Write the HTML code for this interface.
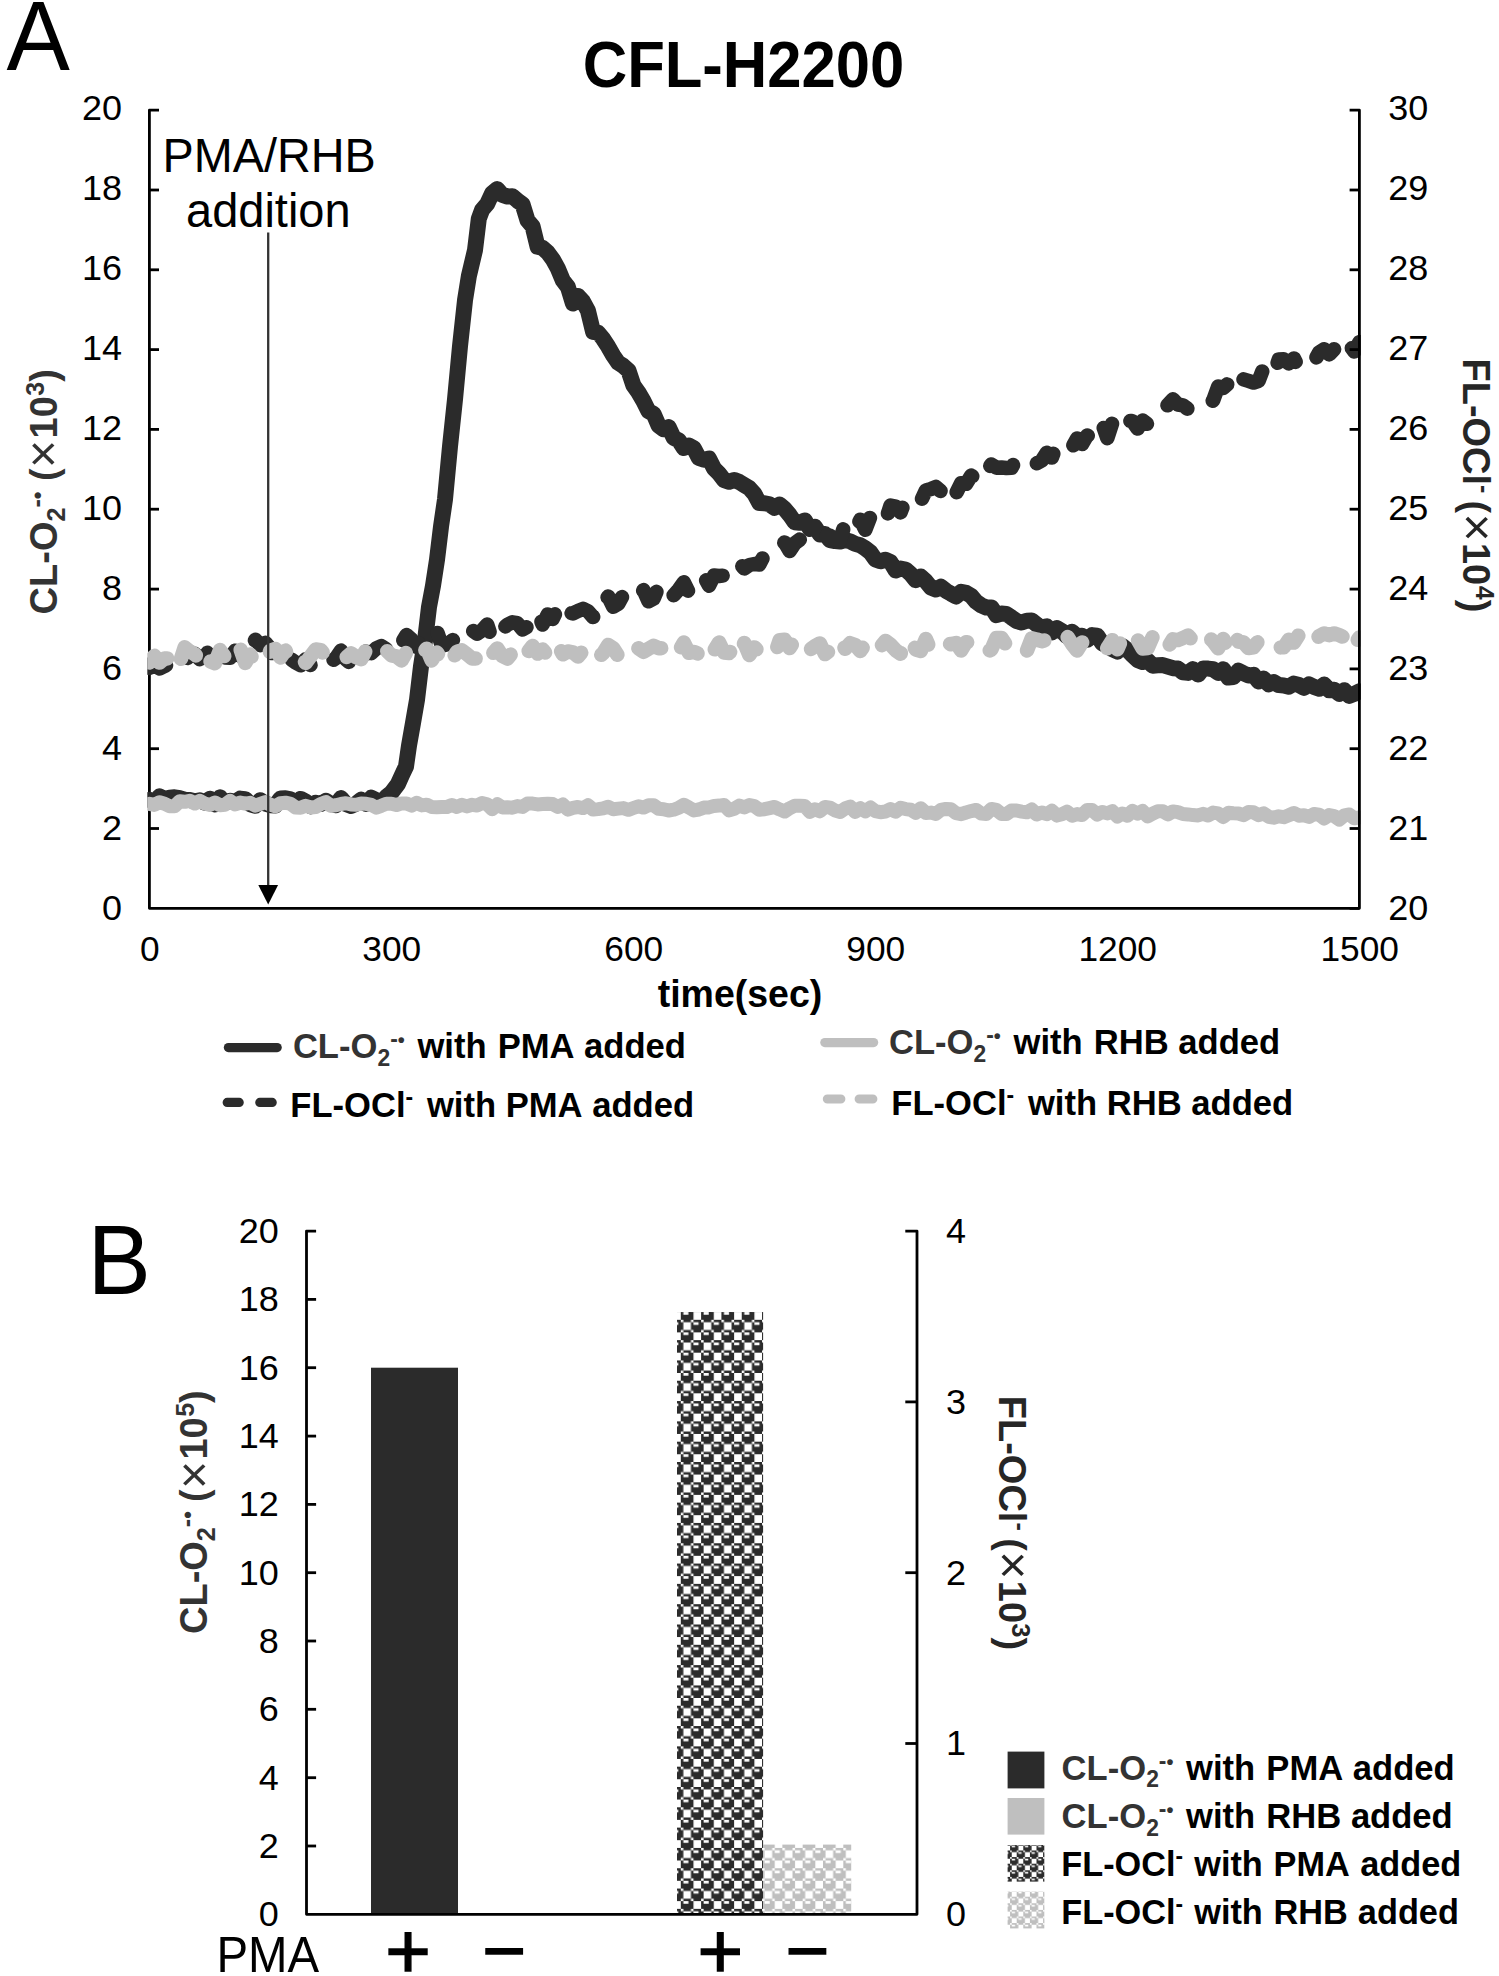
<!DOCTYPE html>
<html lang="en"><head><meta charset="utf-8"><title>CFL-H2200</title>
<style>html,body{margin:0;padding:0;background:#fff;overflow:hidden}svg{display:block}text{font-family:'Liberation Sans', Arial, sans-serif}</style></head><body>
<svg width="1499" height="1976" viewBox="0 0 1499 1976">
<rect width="100%" height="100%" fill="#fff"/>
<defs>
<pattern id="spD" patternUnits="userSpaceOnUse" x="680.80" y="1299.50" width="20.312" height="20.312"><path transform="scale(2.5390)" fill="#2b2b2b" d="M1 0h3v1h-3zM5 0h3v1h-3zM0 1h1v1h-1zM4 1h1v1h-1zM7 1h1v1h-1zM0 2h1v1h-1zM4 2h4v1h-4zM0 3h1v1h-1zM4 3h4v1h-4zM1 4h3v1h-3zM5 4h3v1h-3zM0 5h1v1h-1zM3 5h2v1h-2zM0 6h5v1h-5zM0 7h5v1h-5z"/></pattern>
<pattern id="spG" patternUnits="userSpaceOnUse" x="680.80" y="1299.50" width="20.312" height="20.312"><path transform="scale(2.5390)" fill="#bfbfbf" d="M1 0h3v1h-3zM5 0h3v1h-3zM0 1h1v1h-1zM4 1h1v1h-1zM7 1h1v1h-1zM0 2h1v1h-1zM4 2h4v1h-4zM0 3h1v1h-1zM4 3h4v1h-4zM1 4h3v1h-3zM5 4h3v1h-3zM0 5h1v1h-1zM3 5h2v1h-2zM0 6h5v1h-5zM0 7h5v1h-5z"/></pattern>
<pattern id="spDs" patternUnits="userSpaceOnUse" x="1003.50" y="1843.90" width="13.200" height="13.200"><path transform="scale(1.6500)" fill="#2b2b2b" d="M1 0h3v1h-3zM5 0h3v1h-3zM0 1h1v1h-1zM4 1h1v1h-1zM7 1h1v1h-1zM0 2h1v1h-1zM4 2h4v1h-4zM0 3h1v1h-1zM4 3h4v1h-4zM1 4h3v1h-3zM5 4h3v1h-3zM0 5h1v1h-1zM3 5h2v1h-2zM0 6h5v1h-5zM0 7h5v1h-5z"/></pattern>
<pattern id="spGs" patternUnits="userSpaceOnUse" x="1003.50" y="1843.90" width="13.200" height="13.200"><path transform="scale(1.6500)" fill="#bfbfbf" d="M1 0h3v1h-3zM5 0h3v1h-3zM0 1h1v1h-1zM4 1h1v1h-1zM7 1h1v1h-1zM0 2h1v1h-1zM4 2h4v1h-4zM0 3h1v1h-1zM4 3h4v1h-4zM1 4h3v1h-3zM5 4h3v1h-3zM0 5h1v1h-1zM3 5h2v1h-2zM0 6h5v1h-5zM0 7h5v1h-5z"/></pattern>
</defs>
<text transform="translate(6.40,70.00) scale(1,1.040)" font-size="95.00" font-weight="normal" text-anchor="start" fill="#000">A</text>
<text transform="translate(743.50,87.30) scale(1,1.040)" font-size="61.60" font-weight="bold" text-anchor="middle" fill="#000">CFL-H2200</text>
<g stroke="#000" stroke-width="2.8" fill="none" stroke-linejoin="round">
<path d="M159.0 110.2 H149.4 V908.3 H1359.4"/>
<path d="M149.4 190.0 h9.6"/>
<path d="M149.4 269.8 h9.6"/>
<path d="M149.4 349.6 h9.6"/>
<path d="M149.4 429.4 h9.6"/>
<path d="M149.4 509.2 h9.6"/>
<path d="M149.4 589.1 h9.6"/>
<path d="M149.4 668.9 h9.6"/>
<path d="M149.4 748.7 h9.6"/>
<path d="M149.4 828.5 h9.6"/>
</g>
<text transform="translate(122.00,120.00) scale(1,0.975)" font-size="36.00" font-weight="normal" text-anchor="end" fill="#000">20</text>
<text transform="translate(1388.20,120.00) scale(1,0.975)" font-size="36.00" font-weight="normal" text-anchor="start" fill="#000">30</text>
<text transform="translate(122.00,199.97) scale(1,0.975)" font-size="36.00" font-weight="normal" text-anchor="end" fill="#000">18</text>
<text transform="translate(1388.20,199.97) scale(1,0.975)" font-size="36.00" font-weight="normal" text-anchor="start" fill="#000">29</text>
<text transform="translate(122.00,279.94) scale(1,0.975)" font-size="36.00" font-weight="normal" text-anchor="end" fill="#000">16</text>
<text transform="translate(1388.20,279.94) scale(1,0.975)" font-size="36.00" font-weight="normal" text-anchor="start" fill="#000">28</text>
<text transform="translate(122.00,359.91) scale(1,0.975)" font-size="36.00" font-weight="normal" text-anchor="end" fill="#000">14</text>
<text transform="translate(1388.20,359.91) scale(1,0.975)" font-size="36.00" font-weight="normal" text-anchor="start" fill="#000">27</text>
<text transform="translate(122.00,439.88) scale(1,0.975)" font-size="36.00" font-weight="normal" text-anchor="end" fill="#000">12</text>
<text transform="translate(1388.20,439.88) scale(1,0.975)" font-size="36.00" font-weight="normal" text-anchor="start" fill="#000">26</text>
<text transform="translate(122.00,519.85) scale(1,0.975)" font-size="36.00" font-weight="normal" text-anchor="end" fill="#000">10</text>
<text transform="translate(1388.20,519.85) scale(1,0.975)" font-size="36.00" font-weight="normal" text-anchor="start" fill="#000">25</text>
<text transform="translate(122.00,599.82) scale(1,0.975)" font-size="36.00" font-weight="normal" text-anchor="end" fill="#000">8</text>
<text transform="translate(1388.20,599.82) scale(1,0.975)" font-size="36.00" font-weight="normal" text-anchor="start" fill="#000">24</text>
<text transform="translate(122.00,679.79) scale(1,0.975)" font-size="36.00" font-weight="normal" text-anchor="end" fill="#000">6</text>
<text transform="translate(1388.20,679.79) scale(1,0.975)" font-size="36.00" font-weight="normal" text-anchor="start" fill="#000">23</text>
<text transform="translate(122.00,759.76) scale(1,0.975)" font-size="36.00" font-weight="normal" text-anchor="end" fill="#000">4</text>
<text transform="translate(1388.20,759.76) scale(1,0.975)" font-size="36.00" font-weight="normal" text-anchor="start" fill="#000">22</text>
<text transform="translate(122.00,839.73) scale(1,0.975)" font-size="36.00" font-weight="normal" text-anchor="end" fill="#000">2</text>
<text transform="translate(1388.20,839.73) scale(1,0.975)" font-size="36.00" font-weight="normal" text-anchor="start" fill="#000">21</text>
<text transform="translate(122.00,919.70) scale(1,0.975)" font-size="36.00" font-weight="normal" text-anchor="end" fill="#000">0</text>
<text transform="translate(1388.20,919.70) scale(1,0.975)" font-size="36.00" font-weight="normal" text-anchor="start" fill="#000">20</text>
<text transform="translate(149.70,960.50) scale(1,0.975)" font-size="35.30" font-weight="normal" text-anchor="middle" fill="#000">0</text>
<text transform="translate(391.70,960.50) scale(1,0.975)" font-size="35.30" font-weight="normal" text-anchor="middle" fill="#000">300</text>
<text transform="translate(633.70,960.50) scale(1,0.975)" font-size="35.30" font-weight="normal" text-anchor="middle" fill="#000">600</text>
<text transform="translate(875.70,960.50) scale(1,0.975)" font-size="35.30" font-weight="normal" text-anchor="middle" fill="#000">900</text>
<text transform="translate(1117.70,960.50) scale(1,0.975)" font-size="35.30" font-weight="normal" text-anchor="middle" fill="#000">1200</text>
<text transform="translate(1359.70,960.50) scale(1,0.975)" font-size="35.30" font-weight="normal" text-anchor="middle" fill="#000">1500</text>
<text transform="translate(56.70,614.40) rotate(-90) scale(1,1.040)" font-size="38.00" font-weight="bold" text-anchor="start" fill="#333333"><tspan>CL-O</tspan><tspan font-size="25.08" dy="8.04">2</tspan><tspan font-size="25.08" dy="-19.73">-</tspan><tspan font-size="22.04">•</tspan><tspan dy="11.69"> (</tspan><tspan font-size="48.26" dy="3.54" dx="0.38" font-weight="normal">×</tspan><tspan dy="-3.54" dx="1.29">10</tspan><tspan font-size="25.08" dy="-12.06" dx="0.49">3</tspan><tspan dy="12.06">)</tspan></text>
<text transform="translate(1463.40,358.50) rotate(90) scale(1,1.040)" font-size="38.00" font-weight="bold" text-anchor="start" fill="#262626"><tspan>FL-OCl</tspan><tspan font-size="25.08" dy="-12.42">-</tspan><tspan dy="12.42" dx="-3.50"> (</tspan><tspan font-size="48.26" dy="3.54" dx="0.38" font-weight="normal">×</tspan><tspan dy="-3.54" dx="1.29">10</tspan><tspan font-size="25.08" dy="-12.06" dx="0.49">4</tspan><tspan dy="12.06">)</tspan></text>
<text transform="translate(740.00,1007.00) scale(1,1.040)" font-size="37.50" font-weight="bold" text-anchor="middle" fill="#000">time(sec)</text>
<clipPath id="plotA"><rect x="147.3" y="95" width="1213.5" height="820"/></clipPath>
<g fill="none" stroke-linecap="round" stroke-linejoin="round" clip-path="url(#plotA)">
<polyline stroke="#2b2b2b" stroke-width="16" points="149.4,799.8 154.4,802.4 159.5,796.4 164.5,799.0 169.6,797.7 174.6,797.3 179.7,798.2 184.7,799.6 189.7,800.0 194.8,801.3 199.8,800.3 204.9,802.6 209.9,798.7 214.9,804.4 220.0,797.3 225.0,802.8 230.1,800.7 235.1,802.0 240.2,798.6 245.2,799.1 250.2,804.3 255.3,805.7 260.3,800.3 265.4,803.6 270.4,805.2 275.4,805.4 280.5,798.6 285.5,798.3 290.6,799.4 295.6,805.4 300.6,798.9 305.7,801.6 310.7,806.2 315.8,802.7 320.8,804.0 325.9,800.9 330.9,804.0 335.9,805.1 341.0,798.1 346.0,804.1 351.1,806.0 356.1,803.8 361.1,799.8 366.2,803.9 371.2,797.8 376.3,800.3 381.3,803.5 386.4,796.8 391.4,792.8 398.0,783.9 402.0,775.0 406.0,766.5 409.0,745.6 413.0,723.0 417.0,699.9 421.0,666.2 425.0,640.6 429.0,607.0 433.0,585.8 437.0,559.7 441.0,526.7 445.0,499.3 450.0,446.6 455.0,399.3 460.0,346.2 465.0,300.3 468.8,276.4 475.0,250.1 478.8,218.7 482.1,209.9 487.2,203.9 492.2,193.2 497.3,189.1 502.3,194.9 507.4,196.5 512.4,196.2 517.4,200.6 522.5,204.2 527.5,220.3 532.6,226.4 537.6,246.8 542.6,247.9 547.7,252.5 552.7,259.2 557.8,268.4 562.8,280.4 567.9,287.0 572.9,303.5 577.9,295.9 583.0,301.5 588.0,310.8 593.1,331.8 598.1,332.7 603.1,338.8 608.2,346.7 613.2,355.5 618.3,362.8 623.3,365.9 628.4,370.4 633.4,385.4 638.4,392.4 643.5,401.1 648.5,411.2 653.6,413.8 658.6,425.5 663.6,429.2 668.7,427.1 673.7,437.8 678.8,440.4 683.8,448.0 688.9,445.6 693.9,448.3 698.9,458.0 704.0,459.8 709.0,458.6 714.1,468.7 719.1,473.7 724.1,480.2 729.2,481.8 734.2,479.9 739.3,482.0 744.3,485.1 749.4,488.2 754.4,493.9 759.4,503.1 764.5,503.2 769.5,504.3 774.6,507.8 779.6,504.6 784.6,508.9 789.7,515.0 794.7,522.2 799.8,522.8 804.8,520.4 809.9,529.0 814.9,526.7 819.9,534.5 825.0,534.0 830.0,540.1 835.1,541.1 840.1,541.5 845.1,540.0 850.2,541.4 855.2,543.9 860.3,545.3 865.3,548.4 870.4,552.4 875.4,559.5 880.4,561.3 885.5,559.7 890.5,562.0 895.6,570.5 900.6,568.6 905.6,569.5 910.7,574.0 915.7,580.2 920.8,576.6 925.8,581.2 930.9,587.5 935.9,589.5 940.9,586.7 946.0,590.8 951.0,593.7 956.1,596.5 961.1,591.8 966.1,592.8 971.2,595.8 976.2,601.8 981.3,605.4 986.3,607.5 991.4,607.4 996.4,615.1 1001.4,613.6 1006.5,614.0 1011.5,617.4 1016.6,621.1 1021.6,622.5 1026.7,620.7 1031.7,620.6 1036.7,624.6 1041.8,628.3 1046.8,626.3 1051.9,632.4 1056.9,628.1 1061.9,631.1 1067.0,636.3 1072.0,631.8 1077.1,636.2 1082.1,635.8 1087.2,639.8 1092.2,635.1 1097.2,635.6 1102.3,643.4 1107.3,645.9 1112.4,649.2 1117.4,651.5 1122.4,646.0 1127.5,650.0 1132.5,655.2 1137.6,660.0 1142.6,662.0 1147.7,660.6 1152.7,665.7 1157.7,665.3 1162.8,665.1 1167.8,666.6 1172.9,668.2 1177.9,668.5 1182.9,672.3 1188.0,672.9 1193.0,669.1 1198.1,674.6 1203.1,668.5 1208.2,668.6 1213.2,669.2 1218.2,672.9 1223.3,669.3 1228.3,677.6 1233.4,677.1 1238.4,670.8 1243.4,673.2 1248.5,675.5 1253.5,674.8 1258.6,681.5 1263.6,678.7 1268.7,684.3 1273.7,682.0 1278.7,685.1 1283.8,685.5 1288.8,686.7 1293.9,683.6 1298.9,685.0 1303.9,687.8 1309.0,684.4 1314.0,686.9 1319.1,688.7 1324.1,684.6 1329.2,690.3 1334.2,689.8 1339.2,693.8 1344.3,690.3 1349.3,695.9 1354.4,693.9 1359.4,691.3"/>
<polyline stroke="#2b2b2b" stroke-width="14.5" stroke-dasharray="26 29" points="149.4,667.9 154.4,660.3 159.5,668.5 164.5,666.0 169.6,663.8 174.6,660.2 179.7,655.9 184.7,661.6 189.7,655.3 194.8,653.9 199.8,659.1 204.9,656.6 209.9,649.0 214.9,654.6 220.0,648.1 225.0,657.4 230.1,657.7 235.1,650.7 240.2,655.8 245.2,641.8 250.2,648.2 255.3,639.8 260.3,645.1 265.4,642.8 270.4,648.7 275.4,661.8 280.5,656.7 285.5,655.8 290.6,659.0 295.6,662.4 300.6,665.3 305.7,659.2 310.7,665.2 315.8,661.0 320.8,659.8 325.9,656.3 330.9,661.9 335.9,658.0 341.0,650.6 346.0,659.5 351.1,663.7 356.1,655.5 361.1,661.8 366.2,651.7 371.2,653.1 376.3,648.4 381.3,646.1 386.4,649.4 391.4,643.5 396.4,650.4 401.5,643.2 406.5,635.1 411.6,639.5 416.6,647.0 421.6,638.7 426.7,631.5 431.7,634.4 436.8,630.6 441.8,645.6 446.9,644.5 451.9,640.9 456.9,637.0 462.0,639.3 467.0,628.7 472.1,630.3 477.1,633.7 482.1,630.3 487.2,624.6 492.2,639.7 497.3,629.2 502.3,629.0 507.4,624.7 512.4,622.3 517.4,623.2 522.5,629.5 527.5,626.6 532.6,619.4 537.6,612.2 542.6,624.5 547.7,614.5 552.7,618.9 557.8,608.4 562.8,618.2 567.9,612.5 572.9,613.4 577.9,611.0 583.0,608.9 588.0,611.3 593.1,617.1 598.1,600.9 603.1,602.7 608.2,596.5 613.2,606.8 618.3,603.8 623.3,594.7 628.4,597.0 633.4,599.9 638.4,599.3 643.5,590.1 648.5,601.3 653.6,598.6 658.6,586.7 663.6,598.3 668.7,595.4 673.7,595.3 678.8,589.5 683.8,582.3 688.9,592.5 693.9,585.3 698.9,579.4 704.0,576.3 709.0,585.7 714.1,575.6 719.1,576.0 724.1,575.5 729.2,577.5 734.2,572.4 739.3,563.1 744.3,568.4 749.4,565.0 754.4,564.0 759.4,564.5 764.5,554.6 769.5,551.5 774.6,548.1 779.6,548.8 784.6,542.4 789.7,551.0 794.7,543.4 799.8,539.6 804.8,536.1 809.9,537.3 814.9,534.4 819.9,534.2 825.0,535.8 830.0,535.7 835.1,539.2 840.1,540.2 845.1,522.7 850.2,524.4 855.2,529.8 860.3,519.7 865.3,529.8 870.4,516.8 875.4,523.8 880.4,520.3 885.5,520.9 890.5,505.6 895.6,506.7 900.6,512.4 905.6,499.6 910.7,496.3 915.7,499.5 920.8,501.3 925.8,490.4 930.9,489.0 935.9,486.9 940.9,491.2 946.0,494.2 951.0,484.3 956.1,493.3 961.1,483.2 966.1,483.8 971.2,475.6 976.2,478.6 981.3,481.8 986.3,470.6 991.4,464.5 996.4,467.7 1001.4,467.5 1006.5,468.0 1011.5,467.8 1016.6,459.0 1021.6,460.6 1026.7,463.8 1031.7,465.2 1036.7,463.4 1041.8,460.5 1046.8,452.8 1051.9,457.6 1056.9,444.0 1061.9,444.7 1067.0,447.5 1072.0,447.7 1077.1,438.4 1082.1,444.0 1087.2,435.4 1092.2,438.3 1097.2,424.8 1102.3,423.9 1107.3,438.2 1112.4,422.7 1117.4,431.0 1122.4,423.3 1127.5,420.2 1132.5,421.4 1137.6,428.6 1142.6,420.5 1147.7,424.4 1152.7,418.8 1157.7,413.5 1162.8,411.7 1167.8,404.9 1172.9,399.3 1177.9,404.5 1182.9,405.3 1188.0,409.1 1193.0,404.2 1198.1,405.5 1203.1,405.5 1208.2,404.2 1213.2,400.3 1218.2,386.5 1223.3,388.0 1228.3,383.4 1233.4,392.5 1238.4,389.0 1243.4,379.3 1248.5,380.9 1253.5,382.6 1258.6,380.8 1263.6,367.9 1268.7,374.6 1273.7,373.9 1278.7,359.6 1283.8,359.3 1288.8,363.4 1293.9,358.4 1298.9,368.2 1303.9,364.0 1309.0,362.3 1314.0,361.7 1319.1,352.6 1324.1,349.2 1329.2,354.4 1334.2,349.1 1339.2,356.7 1344.3,350.4 1349.3,344.8 1354.4,351.5 1359.4,342.1"/>
<polyline stroke="#bfbfbf" stroke-width="14" points="149.4,803.8 154.4,804.9 159.5,802.2 164.5,803.7 169.6,806.2 174.6,806.3 179.7,801.3 184.7,801.8 189.7,800.8 194.8,803.5 199.8,800.8 204.9,803.6 209.9,804.9 214.9,802.5 220.0,805.2 225.0,804.7 230.1,801.0 235.1,804.5 240.2,802.6 245.2,803.7 250.2,802.8 255.3,805.6 260.3,803.9 265.4,802.1 270.4,804.7 275.4,806.3 280.5,803.2 285.5,802.7 290.6,803.8 295.6,807.5 300.6,807.8 305.7,805.8 310.7,807.4 315.8,807.0 320.8,804.0 325.9,802.1 330.9,805.9 335.9,805.3 341.0,804.0 346.0,803.2 351.1,804.4 356.1,804.8 361.1,803.6 366.2,803.8 371.2,804.9 376.3,807.6 381.3,805.8 386.4,803.8 391.4,803.8 396.4,805.1 401.5,803.4 406.5,803.5 411.6,805.6 416.6,802.8 421.6,805.4 426.7,804.7 431.7,807.0 436.8,807.3 441.8,807.0 446.9,807.0 451.9,804.9 456.9,806.9 462.0,804.8 467.0,806.4 472.1,804.8 477.1,805.6 482.1,803.1 487.2,804.3 492.2,809.2 497.3,804.3 502.3,807.4 507.4,807.2 512.4,807.7 517.4,806.1 522.5,806.9 527.5,803.5 532.6,803.6 537.6,804.4 542.6,804.1 547.7,803.8 552.7,804.1 557.8,806.9 562.8,804.5 567.9,809.6 572.9,807.9 577.9,807.0 583.0,808.1 588.0,805.2 593.1,809.6 598.1,809.1 603.1,808.4 608.2,806.8 613.2,809.2 618.3,808.6 623.3,808.1 628.4,809.8 633.4,808.0 638.4,806.3 643.5,807.6 648.5,805.2 653.6,805.2 658.6,808.8 663.6,809.2 668.7,810.5 673.7,809.7 678.8,807.8 683.8,804.8 688.9,807.5 693.9,810.4 698.9,809.5 704.0,807.6 709.0,807.4 714.1,805.9 719.1,805.6 724.1,805.0 729.2,810.4 734.2,808.8 739.3,805.6 744.3,807.4 749.4,805.0 754.4,806.1 759.4,809.7 764.5,809.2 769.5,808.1 774.6,806.9 779.6,809.4 784.6,811.5 789.7,808.2 794.7,805.8 799.8,805.8 804.8,806.1 809.9,811.9 814.9,809.2 819.9,811.3 825.0,806.9 830.0,807.6 835.1,810.5 840.1,811.9 845.1,808.4 850.2,806.6 855.2,812.0 860.3,808.2 865.3,811.3 870.4,807.5 875.4,811.1 880.4,812.2 885.5,811.5 890.5,809.1 895.6,811.6 900.6,807.8 905.6,809.1 910.7,809.8 915.7,812.9 920.8,808.2 925.8,813.1 930.9,812.6 935.9,813.9 940.9,809.9 946.0,808.9 951.0,809.3 956.1,813.2 961.1,814.2 966.1,812.5 971.2,811.1 976.2,809.9 981.3,813.6 986.3,813.9 991.4,808.9 996.4,809.8 1001.4,813.9 1006.5,814.1 1011.5,810.6 1016.6,810.5 1021.6,811.6 1026.7,812.3 1031.7,809.5 1036.7,814.5 1041.8,812.5 1046.8,814.2 1051.9,810.7 1056.9,815.6 1061.9,814.3 1067.0,811.6 1072.0,815.7 1077.1,814.1 1082.1,815.1 1087.2,810.0 1092.2,810.1 1097.2,814.7 1102.3,811.9 1107.3,813.4 1112.4,811.1 1117.4,816.6 1122.4,813.5 1127.5,815.7 1132.5,810.8 1137.6,813.6 1142.6,810.9 1147.7,816.4 1152.7,813.6 1157.7,811.2 1162.8,811.3 1167.8,814.4 1172.9,811.4 1177.9,812.2 1182.9,814.0 1188.0,814.4 1193.0,815.1 1198.1,815.4 1203.1,813.8 1208.2,815.5 1213.2,812.6 1218.2,813.4 1223.3,817.0 1228.3,812.8 1233.4,813.3 1238.4,813.5 1243.4,815.1 1248.5,812.1 1253.5,812.3 1258.6,815.2 1263.6,813.4 1268.7,816.8 1273.7,817.7 1278.7,816.3 1283.8,817.2 1288.8,815.2 1293.9,813.0 1298.9,815.7 1303.9,815.3 1309.0,816.9 1314.0,813.9 1319.1,814.6 1324.1,818.5 1329.2,815.0 1334.2,816.0 1339.2,819.6 1344.3,815.3 1349.3,814.5 1354.4,818.3 1359.4,817.4"/>
<polyline stroke="#bfbfbf" stroke-width="14.5" stroke-dasharray="26 29" points="149.4,662.5 154.4,655.8 159.5,662.6 164.5,658.5 169.6,658.3 174.6,650.6 179.7,662.8 184.7,647.3 189.7,651.3 194.8,654.3 199.8,659.8 204.9,650.5 209.9,661.2 214.9,663.2 220.0,650.1 225.0,657.1 230.1,647.7 235.1,653.8 240.2,648.3 245.2,662.9 250.2,654.6 255.3,662.9 260.3,660.3 265.4,661.6 270.4,650.6 275.4,649.0 280.5,657.5 285.5,650.6 290.6,659.7 295.6,654.5 300.6,656.4 305.7,662.9 310.7,656.2 315.8,649.5 320.8,650.2 325.9,656.3 330.9,655.8 335.9,657.6 341.0,653.7 346.0,657.6 351.1,653.4 356.1,657.0 361.1,659.2 366.2,649.7 371.2,652.7 376.3,654.7 381.3,657.5 386.4,650.5 391.4,655.3 396.4,656.3 401.5,660.5 406.5,651.9 411.6,656.2 416.6,649.0 421.6,653.8 426.7,648.7 431.7,660.4 436.8,652.5 441.8,658.8 446.9,652.1 451.9,659.8 456.9,651.7 462.0,650.4 467.0,654.2 472.1,658.5 477.1,658.6 482.1,654.3 487.2,646.0 492.2,654.1 497.3,648.4 502.3,656.1 507.4,658.6 512.4,652.5 517.4,653.8 522.5,645.1 527.5,652.6 532.6,645.9 537.6,653.6 542.6,649.5 547.7,655.9 552.7,644.3 557.8,645.2 562.8,654.3 567.9,651.5 572.9,652.3 577.9,656.6 583.0,650.8 588.0,655.8 593.1,651.0 598.1,657.5 603.1,653.3 608.2,644.9 613.2,648.3 618.3,656.2 623.3,647.9 628.4,645.2 633.4,649.6 638.4,648.3 643.5,651.8 648.5,648.8 653.6,645.9 658.6,648.2 663.6,648.2 668.7,655.9 673.7,657.0 678.8,651.2 683.8,642.5 688.9,652.8 693.9,651.9 698.9,654.1 704.0,646.4 709.0,641.7 714.1,650.4 719.1,642.5 724.1,652.6 729.2,653.1 734.2,646.8 739.3,655.3 744.3,642.9 749.4,655.1 754.4,647.4 759.4,652.1 764.5,651.8 769.5,655.4 774.6,655.2 779.6,640.2 784.6,639.8 789.7,648.1 794.7,639.9 799.8,649.8 804.8,647.8 809.9,649.8 814.9,646.2 819.9,643.4 825.0,654.1 830.0,650.5 835.1,638.9 840.1,640.3 845.1,648.8 850.2,643.2 855.2,645.0 860.3,651.0 865.3,644.1 870.4,653.1 875.4,649.8 880.4,647.0 885.5,641.0 890.5,644.6 895.6,650.2 900.6,653.7 905.6,639.0 910.7,639.9 915.7,649.5 920.8,650.9 925.8,639.0 930.9,650.7 935.9,650.0 940.9,648.3 946.0,642.7 951.0,644.3 956.1,643.0 961.1,650.5 966.1,642.2 971.2,642.1 976.2,651.8 981.3,651.5 986.3,652.2 991.4,649.5 996.4,637.9 1001.4,637.9 1006.5,645.3 1011.5,650.0 1016.6,650.4 1021.6,646.4 1026.7,651.4 1031.7,638.4 1036.7,639.5 1041.8,641.2 1046.8,639.9 1051.9,640.7 1056.9,637.5 1061.9,641.6 1067.0,636.0 1072.0,644.0 1077.1,650.5 1082.1,642.4 1087.2,645.2 1092.2,644.9 1097.2,649.9 1102.3,646.7 1107.3,648.1 1112.4,640.2 1117.4,649.2 1122.4,637.6 1127.5,641.1 1132.5,646.3 1137.6,639.7 1142.6,648.5 1147.7,648.0 1152.7,636.8 1157.7,637.8 1162.8,634.9 1167.8,647.7 1172.9,639.3 1177.9,640.1 1182.9,638.0 1188.0,635.6 1193.0,640.9 1198.1,637.2 1203.1,642.4 1208.2,636.6 1213.2,641.4 1218.2,648.3 1223.3,639.0 1228.3,648.3 1233.4,633.9 1238.4,641.6 1243.4,642.4 1248.5,648.1 1253.5,647.4 1258.6,640.7 1263.6,644.6 1268.7,648.0 1273.7,644.1 1278.7,647.5 1283.8,647.2 1288.8,639.8 1293.9,642.6 1298.9,634.8 1303.9,638.8 1309.0,645.6 1314.0,640.9 1319.1,636.1 1324.1,633.5 1329.2,635.2 1334.2,633.4 1339.2,635.1 1344.3,637.4 1349.3,631.8 1354.4,644.5 1359.4,637.5"/>
</g>
<g stroke="#000" stroke-width="2.8" fill="none" stroke-linejoin="round">
<path d="M1349.6 110.2 H1359.4 V908.3 H1349.6"/>
<path d="M1359.4 190.0 h-9.8"/>
<path d="M1359.4 269.8 h-9.8"/>
<path d="M1359.4 349.6 h-9.8"/>
<path d="M1359.4 429.4 h-9.8"/>
<path d="M1359.4 509.2 h-9.8"/>
<path d="M1359.4 589.1 h-9.8"/>
<path d="M1359.4 668.9 h-9.8"/>
<path d="M1359.4 748.7 h-9.8"/>
<path d="M1359.4 828.5 h-9.8"/>
</g>
<text transform="translate(269.20,171.70) scale(1,1.040)" font-size="46.80" font-weight="normal" text-anchor="middle" fill="#000">PMA/RHB</text>
<text transform="translate(268.30,226.70) scale(1,1.040)" font-size="47.00" font-weight="normal" text-anchor="middle" fill="#000">addition</text>
<path d="M268.2 232.5 V890" stroke="#333" stroke-width="2.3"/>
<path d="M258.3 885 H278.1 L268.2 904.5 Z" fill="#000"/>
<g fill="none" stroke-linecap="round" stroke-width="9.2">
<path d="M228.4 1047.6 H277.2" stroke="#2b2b2b"/>
<path d="M227.2 1102.4 H239.2 M259.8 1102.4 H272.2" stroke="#2b2b2b"/>
<path d="M824.8 1042.6 H873.6" stroke="#bfbfbf"/>
<path d="M827.4 1099 H840.8 M859.2 1099 H872.8" stroke="#bfbfbf"/>
</g>
<text transform="translate(292.90,1058.20) scale(1,1.040)" font-size="34.60" font-weight="bold" text-anchor="start" fill="#000"><tspan fill="#333333">CL-O</tspan><tspan font-size="22.84" dy="7.32" fill="#333333">2</tspan><tspan font-size="22.84" dy="-17.97" fill="#333333">-</tspan><tspan font-size="20.07" fill="#333333">•</tspan><tspan dy="10.65" dx="3.00"> with</tspan><tspan dx="1.50"> PMA</tspan><tspan> added</tspan></text>
<text transform="translate(290.30,1117.00) scale(1,1.040)" font-size="34.60" font-weight="bold" text-anchor="start" fill="#000"><tspan>FL-OCl</tspan><tspan font-size="22.84" dy="-11.31">-</tspan><tspan dy="11.31" dx="4.20"> with</tspan><tspan> PMA</tspan><tspan> added</tspan></text>
<text transform="translate(889.00,1054.40) scale(1,1.040)" font-size="34.60" font-weight="bold" text-anchor="start" fill="#000"><tspan fill="#333333">CL-O</tspan><tspan font-size="22.84" dy="7.32" fill="#333333">2</tspan><tspan font-size="22.84" dy="-17.97" fill="#333333">-</tspan><tspan font-size="20.07" fill="#333333">•</tspan><tspan dy="10.65" dx="3.00"> with</tspan><tspan dx="1.50"> RHB</tspan><tspan> added</tspan></text>
<text transform="translate(891.30,1115.00) scale(1,1.040)" font-size="34.60" font-weight="bold" text-anchor="start" fill="#000"><tspan>FL-OCl</tspan><tspan font-size="22.84" dy="-11.31">-</tspan><tspan dy="11.31" dx="4.20"> with</tspan><tspan> RHB</tspan><tspan> added</tspan></text>
<text transform="translate(87.60,1294.40) scale(1,1.040)" font-size="95.00" font-weight="normal" text-anchor="start" fill="#000">B</text>
<rect x="371" y="1367.7" width="87" height="546.6" fill="#2b2b2b"/>
<rect x="677" y="1312" width="86.1" height="602.3" fill="url(#spD)"/>
<rect x="763.1" y="1844.6" width="88.1" height="69.7" fill="url(#spG)"/>
<g stroke="#000" stroke-width="2.8" fill="none" stroke-linejoin="round">
<path d="M316.1 1231.1 H306.5 V1914.3 H917.0 V1231.1 H905.3"/>
<path d="M306.5 1299.4 h9.6"/>
<path d="M306.5 1367.7 h9.6"/>
<path d="M306.5 1436.1 h9.6"/>
<path d="M306.5 1504.4 h9.6"/>
<path d="M306.5 1572.7 h9.6"/>
<path d="M306.5 1641.0 h9.6"/>
<path d="M306.5 1709.3 h9.6"/>
<path d="M306.5 1777.7 h9.6"/>
<path d="M306.5 1846.0 h9.6"/>
<path d="M917.0 1401.9 h-11.7"/>
<path d="M917.0 1572.7 h-11.7"/>
<path d="M917.0 1743.5 h-11.7"/>
</g>
<text transform="translate(278.80,1243.00) scale(1,0.975)" font-size="36.00" font-weight="normal" text-anchor="end" fill="#000">20</text>
<text transform="translate(278.80,1311.32) scale(1,0.975)" font-size="36.00" font-weight="normal" text-anchor="end" fill="#000">18</text>
<text transform="translate(278.80,1379.64) scale(1,0.975)" font-size="36.00" font-weight="normal" text-anchor="end" fill="#000">16</text>
<text transform="translate(278.80,1447.96) scale(1,0.975)" font-size="36.00" font-weight="normal" text-anchor="end" fill="#000">14</text>
<text transform="translate(278.80,1516.28) scale(1,0.975)" font-size="36.00" font-weight="normal" text-anchor="end" fill="#000">12</text>
<text transform="translate(278.80,1584.60) scale(1,0.975)" font-size="36.00" font-weight="normal" text-anchor="end" fill="#000">10</text>
<text transform="translate(278.80,1652.92) scale(1,0.975)" font-size="36.00" font-weight="normal" text-anchor="end" fill="#000">8</text>
<text transform="translate(278.80,1721.24) scale(1,0.975)" font-size="36.00" font-weight="normal" text-anchor="end" fill="#000">6</text>
<text transform="translate(278.80,1789.56) scale(1,0.975)" font-size="36.00" font-weight="normal" text-anchor="end" fill="#000">4</text>
<text transform="translate(278.80,1857.88) scale(1,0.975)" font-size="36.00" font-weight="normal" text-anchor="end" fill="#000">2</text>
<text transform="translate(278.80,1926.20) scale(1,0.975)" font-size="36.00" font-weight="normal" text-anchor="end" fill="#000">0</text>
<text transform="translate(945.90,1242.90) scale(1,0.975)" font-size="36.00" font-weight="normal" text-anchor="start" fill="#000">4</text>
<text transform="translate(945.90,1413.70) scale(1,0.975)" font-size="36.00" font-weight="normal" text-anchor="start" fill="#000">3</text>
<text transform="translate(945.90,1584.50) scale(1,0.975)" font-size="36.00" font-weight="normal" text-anchor="start" fill="#000">2</text>
<text transform="translate(945.90,1755.30) scale(1,0.975)" font-size="36.00" font-weight="normal" text-anchor="start" fill="#000">1</text>
<text transform="translate(945.90,1926.10) scale(1,0.975)" font-size="36.00" font-weight="normal" text-anchor="start" fill="#000">0</text>
<text transform="translate(207.00,1634.00) rotate(-90) scale(1,1.040)" font-size="38.00" font-weight="bold" text-anchor="start" fill="#333333"><tspan>CL-O</tspan><tspan font-size="25.08" dy="8.04">2</tspan><tspan font-size="25.08" dy="-19.73">-</tspan><tspan font-size="22.04">•</tspan><tspan dy="11.69" dx="-1.50"> (</tspan><tspan font-size="48.26" dy="3.54" dx="0.38" font-weight="normal">×</tspan><tspan dy="-3.54" dx="1.29">10</tspan><tspan font-size="25.08" dy="-12.06" dx="0.49">5</tspan><tspan dy="12.06">)</tspan></text>
<text transform="translate(999.20,1395.80) rotate(90) scale(1,1.040)" font-size="38.00" font-weight="bold" text-anchor="start" fill="#262626"><tspan>FL-OCl</tspan><tspan font-size="25.08" dy="-12.42">-</tspan><tspan dy="12.42" dx="-3.00"> (</tspan><tspan font-size="48.26" dy="3.54" dx="0.38" font-weight="normal">×</tspan><tspan dy="-3.54" dx="1.29">10</tspan><tspan font-size="25.08" dy="-12.06" dx="0.49">3</tspan><tspan dy="12.06">)</tspan></text>
<text transform="translate(216.50,1972.00) scale(1,1.040)" font-size="47.40" font-weight="normal" text-anchor="start" fill="#000">PMA</text>
<text x="408.1" y="1977.7" font-size="78.1" stroke="#000" stroke-width="1.45" text-anchor="middle">+</text>
<text x="504.2" y="1976.4" font-size="75" stroke="#000" stroke-width="1.4" text-anchor="middle">−</text>
<text x="720.2" y="1977.7" font-size="78.1" stroke="#000" stroke-width="1.45" text-anchor="middle">+</text>
<text x="807.4" y="1976.4" font-size="75" stroke="#000" stroke-width="1.4" text-anchor="middle">−</text>
<rect x="1007.6" y="1751.6" width="36.8" height="36.8" fill="#2b2b2b"/>
<rect x="1007.6" y="1798" width="36.8" height="36.6" fill="#bfbfbf"/>
<rect x="1007.6" y="1845" width="36.8" height="36.6" fill="url(#spDs)"/>
<rect x="1007.6" y="1891.6" width="36.8" height="36.8" fill="url(#spGs)"/>
<text transform="translate(1061.60,1779.60) scale(1,1.040)" font-size="34.60" font-weight="bold" text-anchor="start" fill="#000"><tspan fill="#333333">CL-O</tspan><tspan font-size="22.84" dy="7.32" fill="#333333">2</tspan><tspan font-size="22.84" dy="-17.97" fill="#333333">-</tspan><tspan font-size="20.07" fill="#333333">•</tspan><tspan dy="10.65" dx="3.00"> with</tspan><tspan dx="1.50"> PMA</tspan><tspan> added</tspan></text>
<text transform="translate(1061.60,1828.00) scale(1,1.040)" font-size="34.60" font-weight="bold" text-anchor="start" fill="#000"><tspan fill="#333333">CL-O</tspan><tspan font-size="22.84" dy="7.32" fill="#333333">2</tspan><tspan font-size="22.84" dy="-17.97" fill="#333333">-</tspan><tspan font-size="20.07" fill="#333333">•</tspan><tspan dy="10.65" dx="3.00"> with</tspan><tspan dx="1.50"> RHB</tspan><tspan> added</tspan></text>
<text transform="translate(1061.30,1875.60) scale(1,1.040)" font-size="34.30" font-weight="bold" text-anchor="start" fill="#000"><tspan>FL-OCl</tspan><tspan font-size="22.64" dy="-11.21">-</tspan><tspan dy="11.21" dx="1.60"> with</tspan><tspan dx="1.20"> PMA</tspan><tspan dx="1.00"> added</tspan></text>
<text transform="translate(1061.30,1923.60) scale(1,1.040)" font-size="34.30" font-weight="bold" text-anchor="start" fill="#000"><tspan>FL-OCl</tspan><tspan font-size="22.64" dy="-11.21">-</tspan><tspan dy="11.21" dx="1.60"> with</tspan><tspan dx="1.20"> RHB</tspan><tspan dx="0.50"> added</tspan></text>
</svg></body></html>
